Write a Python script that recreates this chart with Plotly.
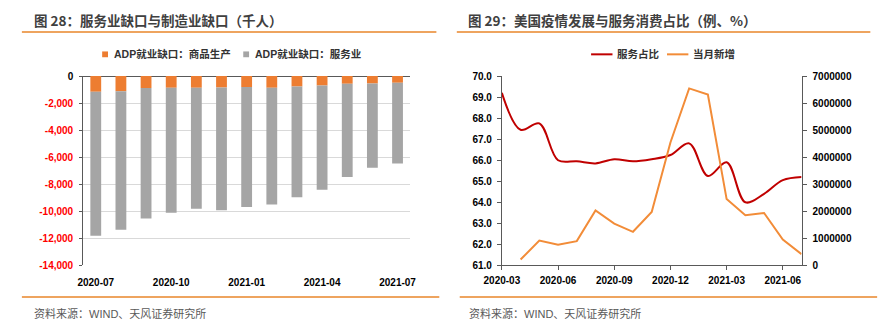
import plotly.graph_objects as go

# ---------------- data ----------------
# Left chart: ADP employment gap (thousand persons)
bar_months = ["2020-07", "2020-08", "2020-09", "2020-10", "2020-11", "2020-12",
              "2021-01", "2021-02", "2021-03", "2021-04", "2021-05", "2021-06", "2021-07"]
goods_gap = [-1150, -1130, -890, -860, -860, -850, -815, -860, -770, -700, -575, -550, -500]
service_gap = [-10650, -10240, -9640, -9240, -8950, -9080, -8875, -8640, -8200, -7700, -6895, -6230, -5970]
bar_ticks = ["2020-07", "2020-10", "2021-01", "2021-04", "2021-07"]

# Right chart: US epidemic vs service consumption share
line_months = ["2020-03", "2020-04", "2020-05", "2020-06", "2020-07", "2020-08", "2020-09",
               "2020-10", "2020-11", "2020-12", "2021-01", "2021-02", "2021-03", "2021-04",
               "2021-05", "2021-06", "2021-07"]
service_share = [69.2, 67.45, 67.75, 66.0, 65.95, 65.85, 66.05, 65.95, 66.05, 66.25,
                 66.8, 65.25, 65.9, 64.0, 64.4, 65.05, 65.2]
new_cases = [None, 215000, 919000, 765000, 897000, 2032000, 1544000, 1242000, 1974000,
             4545000, 6544000, 6318000, 2452000, 1852000, 1938000, 955000, 416000]
line_ticks = ["2020-03", "2020-06", "2020-09", "2020-12", "2021-03", "2021-06"]

W, H = 888, 331
def px(x):
    return x / W
def py(y):
    return 1 - y / H

ORANGE = "#ED7D31"
GRAY = "#A5A5A5"
RED = "#C00000"
ORANGE2 = "#F28C38"
AXIS = "#595959"
CJK = "Liberation Sans, Noto Sans CJK SC"

fig = go.Figure()

fig.add_trace(go.Bar(x=bar_months, y=goods_gap, marker_color=ORANGE, marker_line_width=0,
                     name="ADP就业缺口：商品生产", xaxis="x", yaxis="y"))
fig.add_trace(go.Bar(x=bar_months, y=service_gap, marker_color=GRAY, marker_line_width=0,
                     name="ADP就业缺口：服务业", xaxis="x", yaxis="y"))

fig.add_trace(go.Scatter(x=line_months, y=service_share, mode="lines",
                         line=dict(color=RED, width=2, shape="spline", smoothing=1.0),
                         name="服务占比", xaxis="x2", yaxis="y2"))
fig.add_trace(go.Scatter(x=line_months, y=new_cases, mode="lines",
                         line=dict(color=ORANGE2, width=2),
                         name="当月新增", xaxis="x2", yaxis="y3"))

# y tick labels for left chart (negatives in red, zero black)
yvals = list(range(-14000, 1, 2000))
ytext = []
for v in yvals:
    if v == 0:
        ytext.append('<span style="color:#000000">0</span>')
    else:
        ytext.append("{:,}".format(v))

ydom = [py(268.3), py(72.5)]
bold_font = lambda size, color="#000": dict(family="Liberation Sans, Arial", size=size, color=color, weight="bold")

fig.update_layout(
    width=W, height=H,
    margin=dict(l=0, r=0, t=0, b=0),
    paper_bgcolor="white", plot_bgcolor="white",
    showlegend=False,
    barmode="relative", bargap=0.57,
    xaxis=dict(domain=[px(67), px(403)], type="category", anchor="y",
               tickvals=bar_ticks, ticktext=bar_ticks, ticks="outside", ticklen=1,
               tickcolor="rgba(0,0,0,0)", ticklabelstandoff=7, showline=False,
               showgrid=False, tickfont=bold_font(10)),
    yaxis=dict(domain=ydom, range=[-14000, 0], anchor="x",
               tickvals=yvals, ticktext=ytext,
               showgrid=True, gridcolor="#D9D9D9", gridwidth=1,
               zeroline=True, zerolinecolor=AXIS, zerolinewidth=1,
               showline=True, linecolor=AXIS, linewidth=1,
               ticks="outside", ticklen=3, tickcolor=AXIS, ticklabelstandoff=4,
               tickfont=bold_font(10, "#FF0000")),
    xaxis2=dict(domain=[px(497.3), px(805.3)], type="category", anchor="y2",
                categoryorder="array", categoryarray=line_months,
                range=[0, 16], tickvals=line_ticks, ticktext=line_ticks,
                ticks="outside", ticklen=4, tickcolor=AXIS, ticklabelstandoff=2,
                showline=True, linecolor=AXIS, linewidth=1, showgrid=False,
                tickfont=bold_font(10)),
    yaxis2=dict(domain=ydom, range=[61, 70], dtick=1, tickformat=".1f", anchor="x2",
                showgrid=False, zeroline=False, showline=True, linecolor=AXIS, linewidth=1,
                ticks="outside", ticklen=4, tickcolor=AXIS, ticklabelstandoff=3,
                tickfont=bold_font(10)),
    yaxis3=dict(range=[0, 7000000], dtick=1000000, tickformat="d", anchor="x2",
                overlaying="y2", side="right",
                showgrid=False, zeroline=False, showline=True, linecolor=AXIS, linewidth=1,
                ticks="outside", ticklen=4, tickcolor=AXIS, ticklabelstandoff=4,
                tickfont=bold_font(10)),
)

shapes = []
annotations = []

# titles
annotations.append(dict(xref="paper", yref="paper", x=px(14), y=py(14), xanchor="left", yanchor="middle",
                        text="<b>图 28：服务业缺口与制造业缺口（千人）</b>", showarrow=False,
                        font=dict(family="Noto Sans CJK SC", size=13.5, color="#404040")))
annotations.append(dict(xref="paper", yref="paper", x=px(460), y=py(14), xanchor="left", yanchor="middle",
                        text="<b>图 29：美国疫情发展与服务消费占比（例、%）</b>", showarrow=False,
                        font=dict(family="Noto Sans CJK SC", size=13.5, color="#404040")))
# orange rules
for x0, x1 in [(4, 430), (451, 876)]:
    shapes.append(dict(type="line", xref="paper", yref="paper", x0=px(x0), x1=px(x1),
                       y0=py(27), y1=py(27), line=dict(color="#E8862A", width=1.5)))
for x0, x1 in [(4, 433), (454, 883)]:
    shapes.append(dict(type="line", xref="paper", yref="paper", x0=px(x0), x1=px(x1),
                       y0=py(301), y1=py(301), line=dict(color="#E8862A", width=1.5)))
# sources
for x in [14, 461]:
    annotations.append(dict(xref="paper", yref="paper", x=px(x), y=py(318), xanchor="left", yanchor="middle",
                            text="资料来源：WIND、天风证券研究所", showarrow=False,
                            font=dict(family=CJK, size=11, color="#595959")))

# left legend
for cx, color, label, tx in [(89.5, ORANGE, "ADP就业缺口：商品生产", 97),
                             (234.5, GRAY, "ADP就业缺口：服务业", 242)]:
    shapes.append(dict(type="rect", xref="paper", yref="paper",
                       x0=px(cx - 3), x1=px(cx + 3), y0=py(50 + 3), y1=py(50 - 3),
                       fillcolor=color, line=dict(width=0)))
    annotations.append(dict(xref="paper", yref="paper", x=px(tx), y=py(50), xanchor="left", yanchor="middle",
                            text="<b>" + label + "</b>", showarrow=False,
                            font=dict(family=CJK, size=10.5, color="#333333")))
# right legend
for x0, x1, color, label, tx in [(589, 611, RED, "服务占比", 614),
                                 (667, 689, ORANGE2, "当月新增", 692)]:
    shapes.append(dict(type="line", xref="paper", yref="paper", x0=px(x0), x1=px(x1),
                       y0=py(50), y1=py(50), line=dict(color=color, width=2)))
    annotations.append(dict(xref="paper", yref="paper", x=px(tx), y=py(50), xanchor="left", yanchor="middle",
                            text="<b>" + label + "</b>", showarrow=False,
                            font=dict(family=CJK, size=10.5, color="#333333")))

fig.update_layout(shapes=shapes, annotations=annotations)
fig.write_html("out.html")
